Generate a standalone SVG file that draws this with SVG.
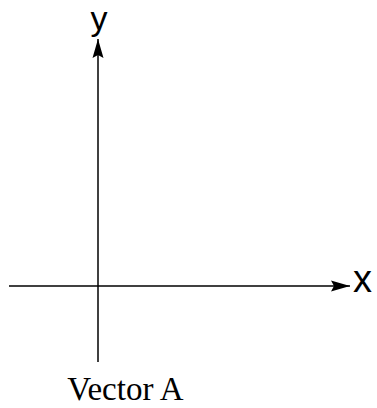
<svg xmlns="http://www.w3.org/2000/svg" width="377" height="408" viewBox="0 0 377 408">
<style>
.axis{stroke:#000;stroke-width:1.5;fill:none}
.lbl{font-family:"Liberation Sans",Arial,sans-serif;fill:#000}
.cap{font-family:"Liberation Serif","Times New Roman",serif;font-size:33px;fill:#000}
</style>
<defs>
<marker id="ah" markerWidth="19" markerHeight="12" refX="19" refY="6" orient="auto" markerUnits="userSpaceOnUse">
<path d="M0,0.5 L19,6 L0,11.5 L3,6 Z" fill="#000"/>
</marker>
</defs>
<rect width="377" height="408" fill="#fff"/>
<g id="connectors">
<line class="axis" x1="98" y1="362" x2="98" y2="39" marker-end="url(#ah)"/>
<line class="axis" x1="9" y1="286" x2="350" y2="286" marker-end="url(#ah)"/>
</g>
<g id="label-y"><text class="lbl" x="99" y="30" font-size="34" text-anchor="middle">y</text></g>
<g id="label-x"><text class="lbl" x="353" y="292" font-size="38">x</text></g>
<g id="caption"><text class="cap" x="125.5" y="400" text-anchor="middle">Vector A</text></g>
</svg>
